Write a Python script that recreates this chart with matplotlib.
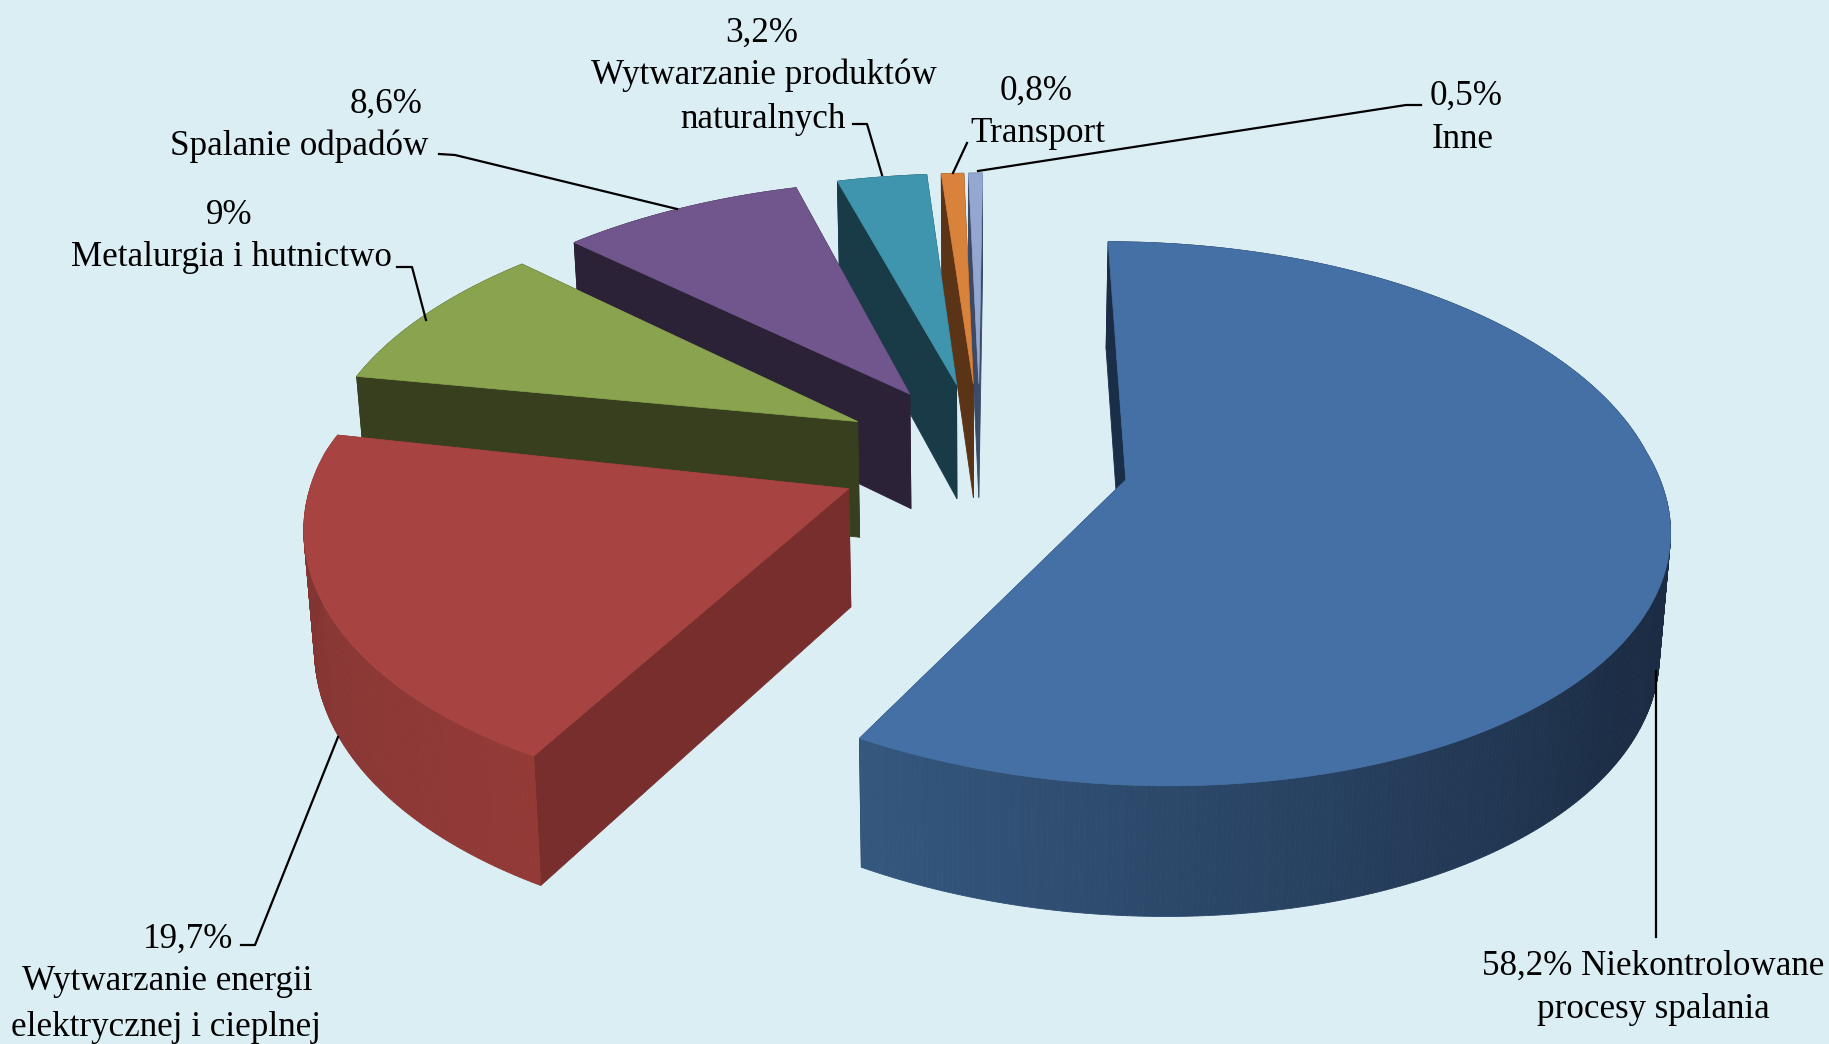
import numpy as np
import matplotlib.pyplot as plt
from matplotlib.colors import to_rgb

plt.rcParams['font.family'] = ['Liberation Serif', 'DejaVu Serif']

shares = [58.2, 19.7, 9, 8.6, 3.2, 0.8, 0.5]
top_colors = ['#4470A6', '#A74441', '#89A34E', '#70568C', '#3F95AE', '#D9823B', '#93A7D1']
cut_colors = ['#1B2E48', '#772E2C', '#373F1E', '#2C2238', '#193B47', '#5B3316', '#3D4A66']
wall_dark = ['#1B2C44', '#7D3331', '#373F1E', '#2C2238', '#193B47', '#5B3316', '#3D4A66']
wall_light = ['#35587F', '#933A37', '#373F1E', '#2C2238', '#193B47', '#5B3316', '#3D4A66']
label_lines = [
    ['{} Niekontrolowane', 'procesy spalania'],
    ['{}', 'Wytwarzanie energii', 'elektrycznej i cieplnej'],
    ['{}', 'Metalurgia i hutnictwo'],
    ['{}', 'Spalanie odpadów'],
    ['{}', 'Wytwarzanie produktów', 'naturalnych'],
    ['{}', 'Transport'],
    ['{}', 'Inne'],
]
label_pos = [
    [(1653, 966), (1653, 1009)],
    [(188, 939), (167, 981), (166, 1027)],
    [(229, 215), (231, 257)],
    [(386, 104), (299, 146)],
    [(762, 33), (764, 75), (763, 119)],
    [(1036, 91), (1038, 133)],
    [(1466, 96), (1463, 139)],
]
leaders = [
    [(1656, 671), (1656, 937)],
    [(241, 945), (255, 945), (338, 737)],
    [(397, 267), (412, 267), (426, 320)],
    [(439, 154), (455, 155), (677, 209)],
    [(853, 124), (867, 124), (882, 175)],
    [(967, 143), (953, 173)],
    [(1421, 105), (1406, 105), (978, 171)],
]

BG = '#DBEEF4'
CX, CY = 980, 452
R, RK = 538, 266
DEPTH = 117
PERSP = 0.16
DEPTH_PERSP = 0.1
CONVERGE = 0.016
FRONT_SHEAR = 16
BACK_SHEAR = 3.5

explode = [0.275, 0.268, 0.26, 0.26, 0.26, 0.26, 0.26]
radius = [0.975, 0.98, 1, 1, 1, 1, 1]
apex_drop = [9, 6, 0, -1, -2, -2, -2]


def project(x, y, z=0.0):
    # x, y lie on the pie plane (radius 1), z is 0 on top and 1 on the base
    x, y = np.asarray(x), np.asarray(y)
    w = 1 + PERSP * y
    shear = FRONT_SHEAR * np.clip(-y, 0, None) + BACK_SHEAR * np.clip(y, 0, None)
    px = CX + (R * x / w + shear) * (1 - CONVERGE * z)
    py = CY - RK * y / w + DEPTH * z / (1 + DEPTH_PERSP * y)
    return px, py


def mix(c1, c2, t):
    a, b = np.array(to_rgb(c1)), np.array(to_rgb(c2))
    return tuple(a + (b - a) * t)


fig = plt.figure(figsize=(18.29, 10.44), dpi=100, facecolor=BG)
ax = fig.add_axes([0, 0, 1, 1])
ax.set_xlim(0, 1829)
ax.set_ylim(1044, 0)
ax.axis('off')

edges = np.concatenate([[0], np.cumsum(shares)]) / np.sum(shares) * 2 * np.pi

# back slices first so the nearer ones paint over them
for i in range(len(shares) - 1, -1, -1):
    a0, a1 = edges[i], edges[i + 1]
    mid = (a0 + a1) / 2
    ox, oy = explode[i] * np.sin(mid), explode[i] * np.cos(mid)
    n = max(int(np.degrees(a1 - a0) * 2), 4)
    th = np.linspace(a0, a1, n + 1)
    xs, ys = ox + radius[i] * np.sin(th), oy + radius[i] * np.cos(th)

    # cut faces
    for ex, ey in [(xs[0], ys[0]), (xs[-1], ys[-1])]:
        fx = np.array([ox, ex, ex, ox])
        fy = np.array([oy, ey, ey, oy])
        px, py = project(fx, fy, np.array([0, 0, 1, 1]))
        py[[0, 3]] += apex_drop[i]
        ax.fill(px, py, color=cut_colors[i], lw=0.6, zorder=i * -3 + 30)

    # outer wall in thin strips, lighter toward the end of the big slices
    for j in range(n):
        deg = np.degrees(th[j])
        if i == 0:
            t = np.clip((deg - 125) / 84.5, 0, 1)
        else:
            t = 1 - (deg - np.degrees(a0)) / np.degrees(a1 - a0)
        fx = np.array([xs[j], xs[j + 1], xs[j + 1], xs[j]])
        fy = np.array([ys[j], ys[j + 1], ys[j + 1], ys[j]])
        px, py = project(fx, fy, np.array([0, 0, 1, 1]))
        ax.fill(px, py, color=mix(wall_dark[i], wall_light[i], t), lw=0.6, zorder=i * -3 + 31)

    # top surface
    px, py = project(np.r_[ox, xs], np.r_[oy, ys])
    py[0] += apex_drop[i]
    ax.fill(px, py, color=top_colors[i], lw=0.5, zorder=i * -3 + 32)

for line in leaders:
    ax.plot([p[0] for p in line], [p[1] for p in line], color='black', lw=1.6, zorder=50)

for value, lines, spots in zip(shares, label_lines, label_pos):
    share_text = f'{value:g}%'.replace('.', ',')
    for text, (x, y) in zip(lines, spots):
        ax.text(x, y, text.format(share_text), ha='center', va='center',
                fontsize=25.2, color='black', zorder=60)

fig.savefig('out.png', dpi=100, facecolor=BG)
